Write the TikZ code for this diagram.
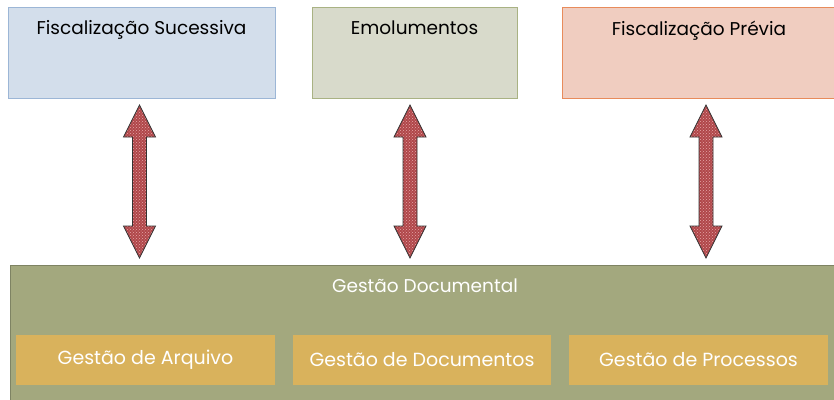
\documentclass[tikz,border=0pt]{standalone}
\usepackage{fontspec}
\setmainfont{Poppins}
\usetikzlibrary{patterns}
\usetikzlibrary{calc}
\definecolor{fsfill}{HTML}{D3DEEB}
\definecolor{fsline}{HTML}{9CB6D6}
\definecolor{emfill}{HTML}{D8DACB}
\definecolor{emline}{HTML}{A9B283}
\definecolor{fpfill}{HTML}{F0CDC0}
\definecolor{fpline}{HTML}{E88B5B}
\definecolor{gdfill}{HTML}{A3A87E}
\definecolor{gdline}{HTML}{7E8363}
\definecolor{subfill}{HTML}{D9B25C}
\definecolor{arrfill}{HTML}{B0474A}
\definecolor{arrdots}{HTML}{E6A7A8}

\begin{document}
\begin{tikzpicture}[x=1pt, y=-1pt,
    topbox/.style={draw, line width=0.8pt, minimum height=91pt, inner sep=0pt},
    subbox/.style={fill=subfill, minimum width=259pt, minimum height=50pt, inner sep=0pt,
                   text=white, font=\fontsize{19}{20}\selectfont},
    title/.style={font=\fontsize{18.5}{20}\selectfont},
    blockarrow/.style={preaction={fill=arrfill}, pattern=crosshatch dots, pattern color=arrdots,
                       draw=black!80, line width=0.8pt, line join=miter}]
      \useasboundingbox (0,0) rectangle (834,399);
      \clip (0,0) rectangle (834,399);
      \def\atop{105}% arrow tip up
      \def\abot{258}% arrow tip down
      \def\shaft{7}
      \def\head{16}
      \def\hlen{32}
      % -------------------------------------------- top boxes
      \node[topbox, fill=fsfill, draw=fsline, minimum width=267pt,
            label={[title, anchor=north, yshift=-10.5pt]north:Fiscalização Sucessiva}]
            at (141.5,52.5) (fisc_suc) {};
      \node[topbox, fill=emfill, draw=emline, minimum width=205pt,
            label={[title, anchor=north, yshift=-10.5pt]north:Emolumentos}]
            at (414.5,52.5) (emol) {};
      \node[topbox, fill=fpfill, draw=fpline, minimum width=276pt,
            label={[title, anchor=north, yshift=-10.5pt, xshift=-1pt]north:Fiscalização Prévia}]
            at (700,52.5) (fisc_prev) {};
      % -------------------------------------------- Gestão Documental
      \node[draw=gdline, fill=gdfill, line width=1pt, minimum width=834pt, minimum height=140pt,
            inner sep=0pt, label={[text=white, title, anchor=north, yshift=-10.5pt, xshift=-2pt]north:Gestão Documental}]
            at (427,335) (gest_doc) {};
      \node[subbox] at (145.5,359.5) (gest_arq) {Gestão de Arquivo};
      \node[subbox, minimum width=258pt] at (422,359.5) (gest_docs) {Gestão de Documentos};
      \node[subbox] at (698.5,359.5) (gest_proc) {Gestão de Processos};
      % -------------------------------------------- double arrows
      \foreach \n/\x in {1/139.5, 2/410, 3/706}{
        \coordinate (arr_top_\n) at (\x,\atop);
        \coordinate (arr_bot_\n) at (\x,\abot);
        \path[blockarrow] (arr_top_\n) -- ++(\head,\hlen) -- ++(-\head+\shaft,0)
          -- ($(arr_bot_\n)+(\shaft,-\hlen)$) -- ++(\head-\shaft,0) -- (arr_bot_\n)
          -- ++(-\head,-\hlen) -- ++(\head-\shaft,0)
          -- ($(arr_top_\n)+(-\shaft,\hlen)$) -- ++(-\head+\shaft,0) -- cycle;
      }
\end{tikzpicture}
\end{document}
